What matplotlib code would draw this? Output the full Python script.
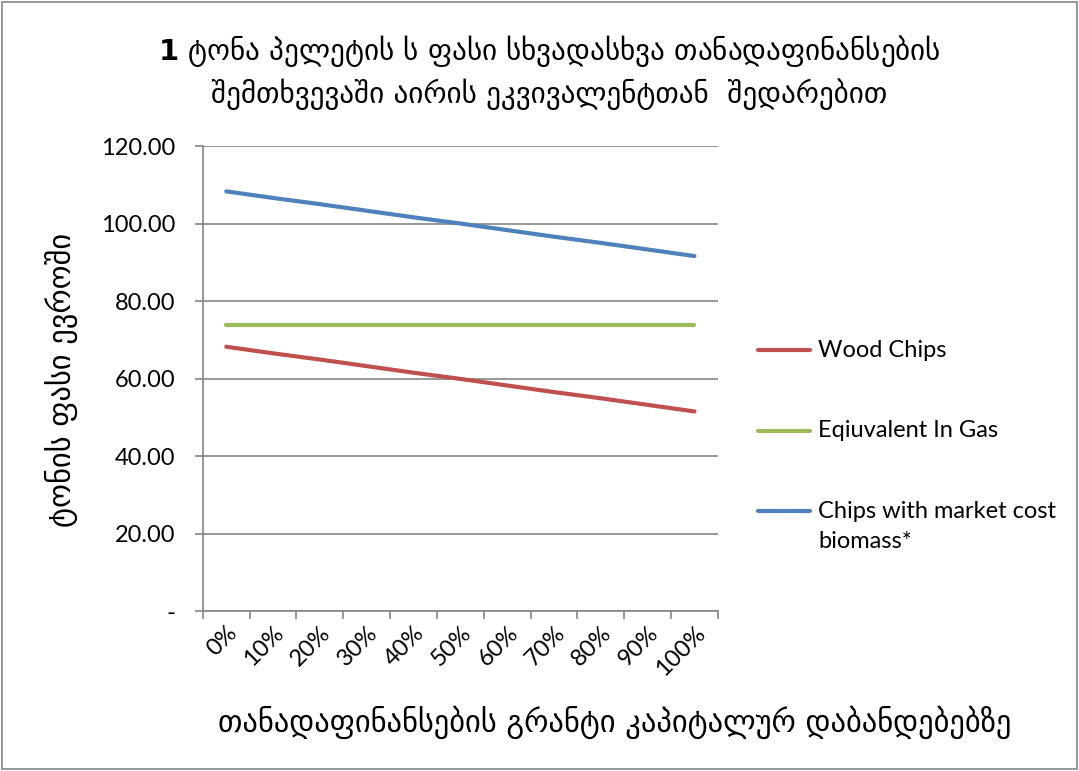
import matplotlib
matplotlib.use("Agg")
import matplotlib.pyplot as plt
from matplotlib.lines import Line2D

plt.rcParams['font.family'] = ['Lato', 'DejaVu Sans']

# %%
categories = ['0%', '10%', '20%', '30%', '40%', '50%', '60%', '70%', '80%', '90%', '100%']
wood_chips = [68.2, 66.5, 64.9, 63.2, 61.5, 59.9, 58.2, 56.5, 54.9, 53.2, 51.5]
gas_equiv = [73.7, 73.7, 73.7, 73.7, 73.7, 73.7, 73.7, 73.7, 73.7, 73.7, 73.7]
market_chips = [108.3, 106.6, 105.0, 103.3, 101.6, 100.0, 98.3, 96.6, 95.0, 93.3, 91.6]
series_names = ['Wood Chips', 'Eqiuvalent In Gas', 'Chips with market cost\nbiomass*']
yticks = [0, 20, 40, 60, 80, 100, 120]
ytick_labels = ['-', '20.00', '40.00', '60.00', '80.00', '100.00', '120.00']

title = (r'$\mathbf{1}$ ტონა პელეტის ს ფასი სხვადასხვა თანადაფინანსების' + '\n'
         'შემთხვევაში აირის ეკვივალენტთან  შედარებით')
ylabel = 'ტონის ფასი ევროში'
xlabel = 'თანადაფინანსების გრანტი კაპიტალურ დაბანდებებზე'

colors = ['#C0504D', '#9BBB59', '#4F81BD']

# %%
fig = plt.figure(figsize=(10.79, 7.71), dpi=100)
ax = fig.add_axes([0.188, 0.2075, 0.4773, 0.6031])

x = list(range(len(categories)))
for vals, c in zip([wood_chips, gas_equiv, market_chips], colors):
    ax.plot(x, vals, color=c, lw=3, solid_capstyle='round')

ax.set_xlim(-0.5, len(categories) - 0.5)
ax.set_ylim(0, 120)
ax.set_yticks(yticks)
ax.set_yticklabels(ytick_labels, fontsize=17)
ax.set_xticks(x)
ax.set_xticklabels(categories, fontsize=17, rotation=45, ha='right', rotation_mode='anchor')
ax.tick_params(axis='x', which='major', length=0, pad=8)
ax.set_xticks([i - 0.5 for i in range(len(categories) + 1)], minor=True)
ax.tick_params(axis='x', which='minor', length=6, color='#868686', width=1.2)
ax.tick_params(axis='y', length=6, color='#868686', width=1.2, pad=14)

ax.grid(axis='y', color='#868686', lw=1.2)
ax.set_axisbelow(True)
for s in ['top', 'right']:
    ax.spines[s].set_visible(False)
for s in ['left', 'bottom']:
    ax.spines[s].set_color('#868686')
    ax.spines[s].set_linewidth(1.2)

fig.text(0.509, 0.907, title, ha='center', va='center', fontsize=21,
         family='DejaVu Sans', linespacing=1.4)
fig.text(0.057, 0.507, ylabel, rotation=90, ha='center', va='center', fontsize=22,
         family='DejaVu Sans')
fig.text(0.570, 0.0636, xlabel, ha='center', va='center', fontsize=22, family='DejaVu Sans')

# legend drawn by hand so the marker sits on the first text line
legend_y = [0.546, 0.441, 0.337]
for name, c, ly in zip(series_names, colors, legend_y):
    fig.add_artist(Line2D([0.7025, 0.7507], [ly, ly], color=c, lw=3,
                          solid_capstyle='round', transform=fig.transFigure))
    lines = name.split('\n')
    for k, line in enumerate(lines):
        fig.text(0.758, ly - k * 0.039, line, ha='left', va='center', fontsize=17)

# frame around the chart
fig.patches.append(plt.Rectangle((0.002, 0.002), 0.996, 0.996, transform=fig.transFigure,
                                 fill=False, edgecolor='#868686', lw=1.2))

fig.savefig('out.png', dpi=100)
